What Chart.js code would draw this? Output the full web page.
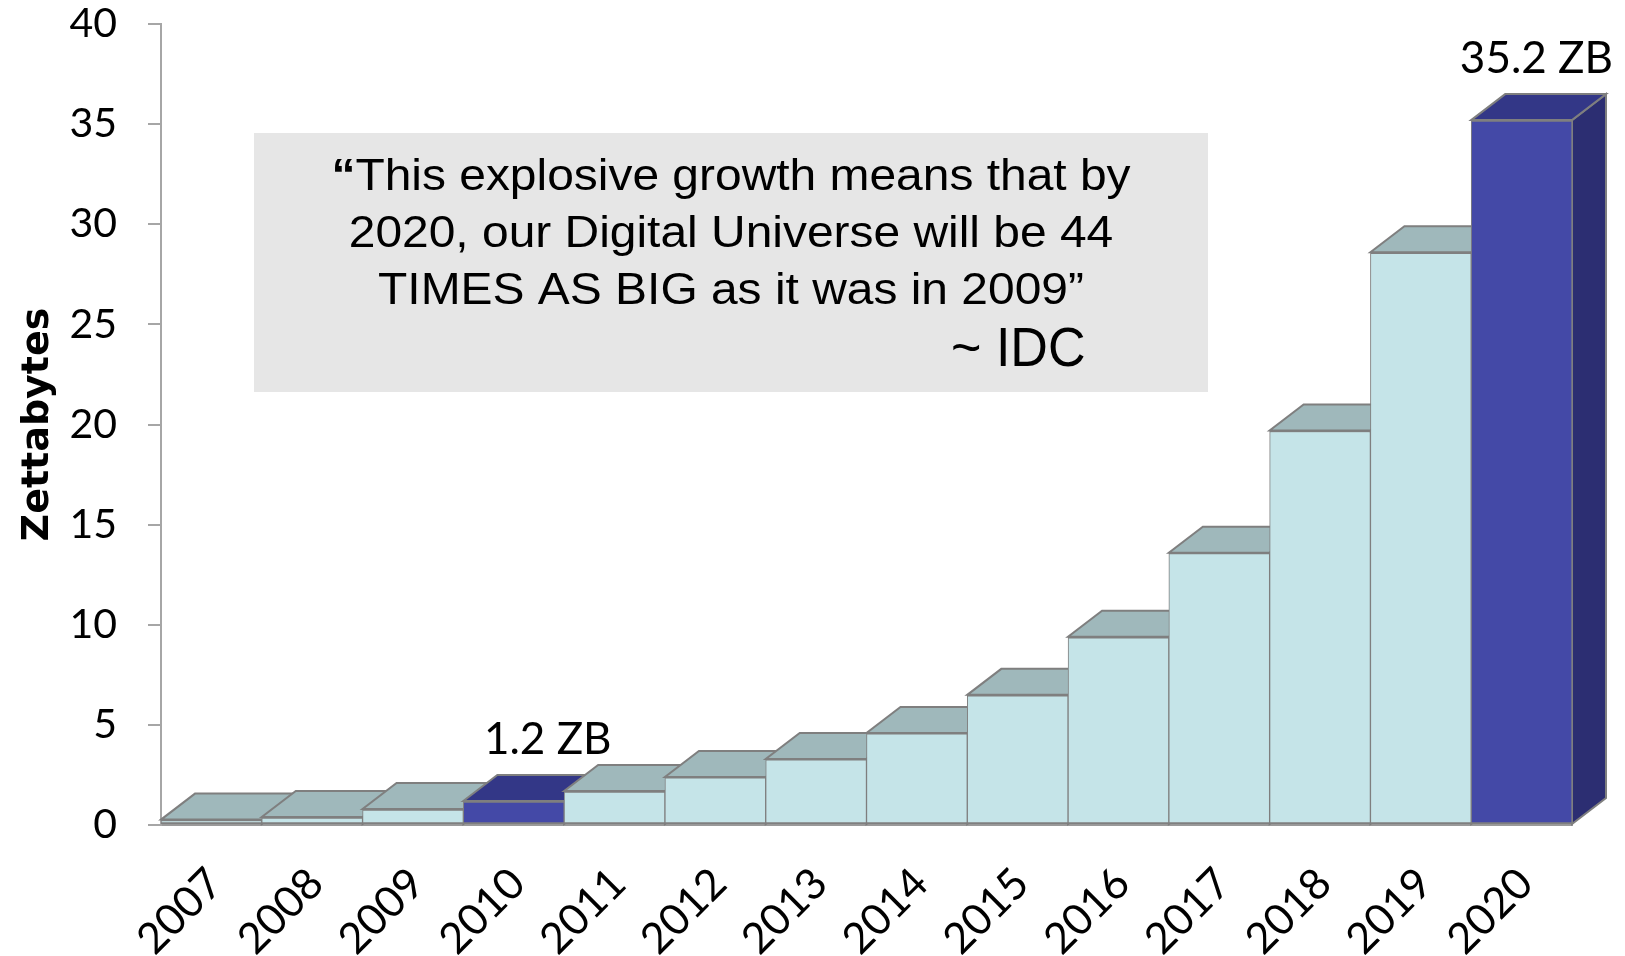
<!DOCTYPE html>
<html>
<head>
<meta charset="utf-8">
<title>Zettabytes 2007–2020</title>
<script src="https://cdn.jsdelivr.net/npm/chart.js@4.4.1/dist/chart.umd.min.js"></script>
<style>
  html, body { margin: 0; padding: 0; background: #ffffff; }
  canvas { display: block; }
</style>
</head>
<body>
<canvas id="chart" width="1625" height="956"></canvas>
<script>
// ---- data ----
const years = ['2007', '2008', '2009', '2010', '2011', '2012', '2013',
               '2014', '2015', '2016', '2017', '2018', '2019', '2020'];
const zettabytes = [0.27, 0.4, 0.8, 1.2, 1.7, 2.4, 3.3,
                    4.6, 6.5, 9.4, 13.6, 19.7, 28.6, 35.2];
const labelledYears = ['2010', '2020'];
const yTickValues = [0, 5, 10, 15, 20, 25, 30, 35, 40];
const unitLabel = 'ZB';
const axisTitle = 'Zettabytes';
const quoteLines = [
  'This explosive growth means that by',
  '2020, our Digital Universe will be 44',
  'TIMES AS BIG as it was in 2009\u201D'
];
const quoteSource = '~ IDC';

// ---- styling ----
const DEPTH_X = 34;      // 3D offset to the right
const DEPTH_Y = 26;      // 3D offset upwards
const EDGE = '#7f7f7f';
const COLORS = {
  plain:     { front: '#c5e4e8', top: '#9fb8bb', side: '#88a2a6' },
  highlight: { front: '#4449a7', top: '#333787', side: '#2c2e72' }
};
const HUMANIST = "'Lato', sans-serif";
const ARIAL = "'Liberation Sans', Arial, sans-serif";

const highlighted = years.map(y => labelledYears.includes(y));
const styleOf = i => highlighted[i] ? COLORS.highlight : COLORS.plain;

// Top and side faces of each bar, painted in category order so that
// each later (taller) bar overlaps the one before it.
const extrudePlugin = {
  id: 'extrude',
  beforeDatasetsDraw(chart) {
    const ctx = chart.ctx;
    const meta = chart.getDatasetMeta(0);
    ctx.save();
    ctx.lineWidth = 2;
    ctx.lineJoin = 'miter';
    ctx.strokeStyle = EDGE;
    meta.data.forEach((bar, i) => {
      const { x, y, base, width } = bar.getProps(['x', 'y', 'base', 'width'], true);
      const L = x - width / 2, R = x + width / 2;
      const c = styleOf(i);
      // side
      ctx.beginPath();
      ctx.moveTo(R, y);
      ctx.lineTo(R + DEPTH_X, y - DEPTH_Y);
      ctx.lineTo(R + DEPTH_X, base - DEPTH_Y);
      ctx.lineTo(R, base);
      ctx.closePath();
      ctx.fillStyle = c.side;
      ctx.fill();
      ctx.stroke();
      // top
      ctx.beginPath();
      ctx.moveTo(L, y);
      ctx.lineTo(R, y);
      ctx.lineTo(R + DEPTH_X, y - DEPTH_Y);
      ctx.lineTo(L + DEPTH_X, y - DEPTH_Y);
      ctx.closePath();
      ctx.fillStyle = c.top;
      ctx.fill();
      ctx.stroke();
    });
    ctx.restore();
  }
};

// Value labels above the highlighted years.
const valueLabelPlugin = {
  id: 'valueLabels',
  afterDatasetsDraw(chart) {
    const ctx = chart.ctx;
    const meta = chart.getDatasetMeta(0);
    ctx.save();
    ctx.font = `44px ${HUMANIST}`;
    ctx.fillStyle = '#000';
    ctx.textAlign = 'center';
    ctx.textBaseline = 'alphabetic';
    meta.data.forEach((bar, i) => {
      if (!highlighted[i]) return;
      const text = `${zettabytes[i]} ${unitLabel}`;
      const half = ctx.measureText(text).width / 2;
      const cx = Math.min(bar.x + DEPTH_X, chart.width - half - 12);
      ctx.fillText(text, cx, bar.y - DEPTH_Y - 21);
    });
    ctx.restore();
  }
};

// Grey quotation panel.
const quotePlugin = {
  id: 'quotePanel',
  beforeDatasetsDraw(chart) {
    const ctx = chart.ctx;
    const box = { x: 254, y: 133, w: 954, h: 259 };
    const cx = box.x + box.w / 2;
    const size = 45, lead = 57, firstBase = 190, stretch = 1.065;
    const reg = `${size}px ${ARIAL}`;
    const bold = `bold ${size}px ${ARIAL}`;
    ctx.save();
    ctx.fillStyle = '#e6e6e6';
    ctx.fillRect(box.x, box.y, box.w, box.h);
    ctx.fillStyle = '#000';
    ctx.textBaseline = 'alphabetic';
    ctx.textAlign = 'left';
    quoteLines.forEach((line, i) => {
      const y = firstBase + i * lead;
      const open = i === 0 ? '\u201C' : '';
      ctx.font = bold;
      const wOpen = open ? ctx.measureText(open).width : 0;
      ctx.font = reg;
      const wLine = ctx.measureText(line).width;
      ctx.save();
      ctx.translate(cx, 0);
      ctx.scale(stretch, 1);
      let x = -(wOpen + wLine) / 2;
      if (open) {
        ctx.font = bold;
        ctx.fillText(open, x, y);
        x += wOpen;
      }
      ctx.font = reg;
      ctx.fillText(line, x, y);
      ctx.restore();
    });
    ctx.save();
    ctx.translate(951, 366);
    ctx.scale(0.93, 1);
    ctx.font = `56px ${ARIAL}`;
    ctx.fillText(quoteSource, 0, 0);
    ctx.restore();
    ctx.restore();
  }
};

new Chart(document.getElementById('chart'), {
  type: 'bar',
  data: {
    labels: years,
    datasets: [{
      data: zettabytes,
      backgroundColor: years.map((_, i) => styleOf(i).front),
      borderColor: EDGE,
      borderWidth: { top: 2, bottom: 2, left: 1, right: 1 },
      borderSkipped: false,
      barPercentage: 1,
      categoryPercentage: 1
    }]
  },
  options: {
    responsive: false,
    animation: false,
    devicePixelRatio: 1,
    layout: { padding: { top: 24, right: 53, bottom: 0, left: 0 } },
    plugins: {
      legend: { display: false },
      tooltip: { enabled: false },
      title: { display: false }
    },
    scales: {
      x: {
        grid: { display: false },
        border: { display: true, color: '#9a9a9a', width: 2 },
        ticks: {
          autoSkip: false,
          minRotation: 45,
          maxRotation: 45,
          padding: 28,
          labelOffset: 4,
          color: '#000',
          font: { family: HUMANIST, size: 43, lineHeight: 1 }
        },
        afterFit(scale) { scale.height = 131; }
      },
      y: {
        min: 0,
        max: 40,
        afterBuildTicks(scale) {
          scale.ticks = yTickValues.map(v => ({ value: v }));
        },
        ticks: {
          padding: 31,
          color: '#000',
          font: { family: HUMANIST, size: 41, lineHeight: 1 }
        },
        grid: {
          drawOnChartArea: false,
          drawTicks: true,
          tickLength: 13,
          color: '#a6a6a6',
          lineWidth: 2
        },
        border: { display: true, color: '#a6a6a6', width: 2 },
        title: {
          display: true,
          text: axisTitle,
          color: '#000',
          font: { family: "'DejaVu Sans', sans-serif", weight: 'bold', size: 38, lineHeight: 1.2 },
          padding: { top: 15, bottom: 0 }
        },
        afterFit(scale) {
          scale.width = 161;
          // the end labels may overhang the plot edges
          scale.paddingTop = 0;
          scale.paddingBottom = 0;
        }
      }
    }
  },
  plugins: [quotePlugin, extrudePlugin, valueLabelPlugin]
});
</script>
</body>
</html>
